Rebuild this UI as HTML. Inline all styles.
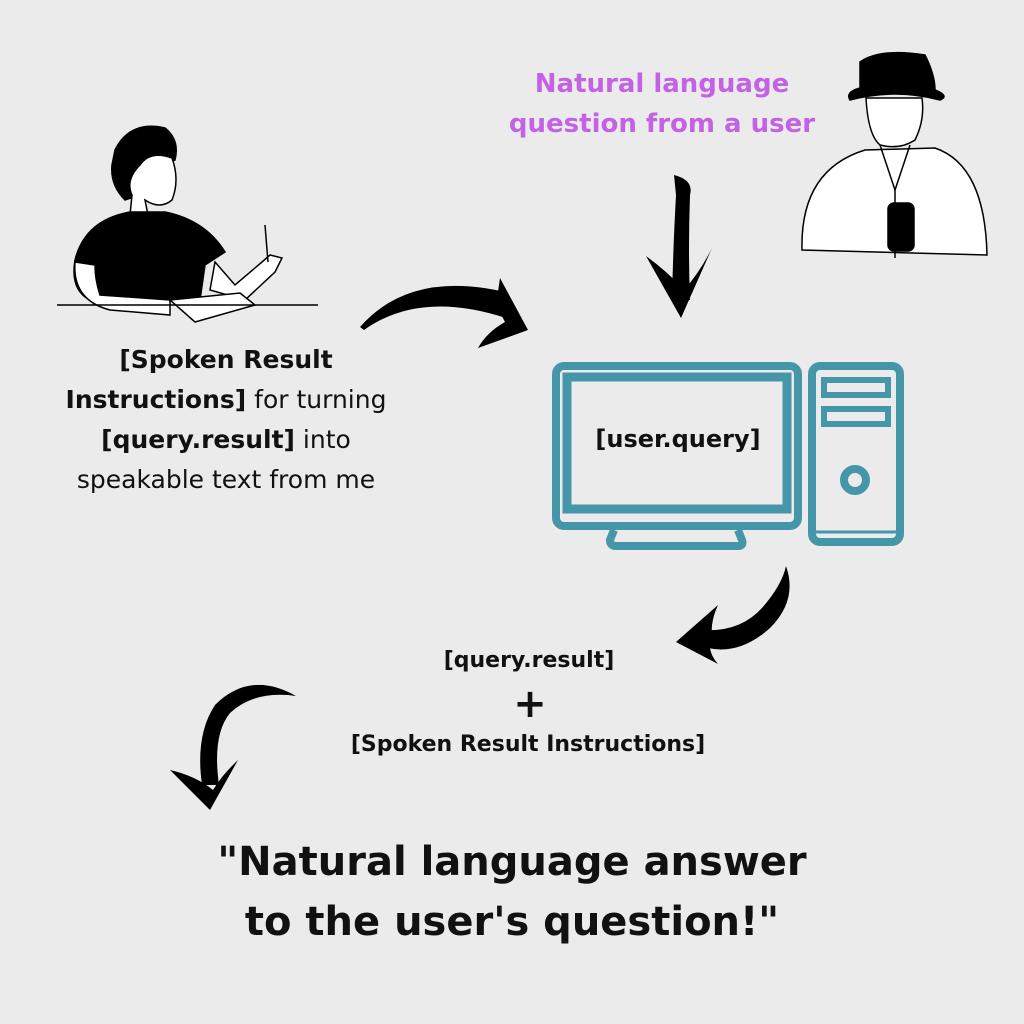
<!DOCTYPE html>
<html><head><meta charset="utf-8"><style>
html,body{margin:0;padding:0}
body{width:1024px;height:1024px;background:#ebebeb;position:relative;overflow:hidden;font-family:"DejaVu Sans","Liberation Sans",sans-serif;color:#111}
.t{position:absolute;text-align:center;white-space:nowrap;transform:translateX(-50%)}
b{font-weight:bold}
</style></head><body>
<svg width="1024" height="1024" style="position:absolute;left:0;top:0">
<g fill="none" stroke="#4596a8" stroke-width="8">
<rect x="556" y="366" width="242" height="160" rx="8"/>
<rect x="567" y="377" width="220" height="132" stroke-width="9"/>
<path d="M614 530 L610 540 Q610 546 616 546 L738 546 Q744 546 742 540 L738 530"/>
<rect x="812" y="366" width="88" height="176" rx="8"/>
<rect x="824" y="380" width="64" height="15" stroke-width="6"/>
<rect x="824" y="409" width="64" height="15" stroke-width="6"/>
<circle cx="855" cy="480" r="11"/>
<line x1="814" y1="532" x2="898" y2="532" stroke-width="3"/>
</g>
<g fill="#000" stroke="none">
<path d="M360 327 Q410 270 505 292 L506 318 Q420 290 364 330 Z"/>
<path d="M500 278 L528 330 L478 348 Q487 332 505 322 L496 305 Z"/>
<path d="M674 175 Q694 180 690 195 Q688 250 690 300 L672 300 Q673 250 676 195 Z"/>
<path d="M646 256 L681 318 L712 248 Q700 272 684 290 Q668 272 646 256 Z"/>
<path d="M786 566 Q798 600 770 628 Q740 655 708 648 L704 630 Q740 632 762 608 Q782 585 786 566 Z"/>
<path d="M718 605 L676 642 L718 664 Q706 650 712 638 Q710 622 718 605 Z"/>
<path d="M296 696 Q250 670 215 705 Q195 735 202 785 L219 785 Q212 735 230 713 Q255 690 296 696 Z"/>
<path d="M170 770 L210 810 L238 760 Q222 775 213 790 Q196 776 170 770 Z"/>
</g>
<g stroke="#000" stroke-width="1.5">
<path d="M115 150 Q130 120 165 128 Q180 140 175 160 L160 165 Q155 185 140 195 L125 200 Q110 185 112 165 Z" fill="#000"/>
<path d="M140 165 Q150 150 172 158 Q180 180 172 200 Q160 210 145 200 L148 215 L130 215 L132 195 Q125 180 140 165 Z" fill="#fff"/>
<path d="M75 260 Q85 220 130 212 L165 212 Q205 220 225 252 L205 265 L200 300 L90 300 Q70 290 75 260 Z" fill="#000"/>
<path d="M75 262 Q72 300 110 310 L170 315 L170 300 L100 295 Q95 280 95 265 Z" fill="#fff"/>
<path d="M215 262 L235 285 L262 262 L270 255 L282 258 L275 272 L245 300 L210 290 Z" fill="#fff"/>
<line x1="265" y1="225" x2="268" y2="262"/>
<path d="M170 300 L240 293 L255 305 L195 322 Z" fill="#fff"/>
<line x1="57" y1="305" x2="318" y2="305"/>
</g>
<g stroke="#000" stroke-width="1.5">
<path d="M802 250 Q800 170 865 150 L935 148 Q985 165 987 255 Z" fill="#fff"/>
<path d="M866 98 Q868 135 880 145 Q900 150 915 140 Q925 120 922 98 Z" fill="#fff"/>
<path d="M860 62 Q880 48 925 55 Q935 75 935 90 Q950 96 940 100 Q895 88 850 100 Q845 92 860 88 Z" fill="#000"/>
<rect x="888" y="203" width="26" height="48" rx="6" fill="#000"/>
<path d="M880 145 L895 190 L910 145" fill="none"/>
<line x1="895" y1="190" x2="895" y2="258"/>
</g>
</svg>
<div class="t" style="left:662px;top:64px;font-size:26px;line-height:40px;color:#c462e6;font-weight:bold">Natural language<br>question from a user</div>
<div class="t" style="left:226px;top:340px;font-size:25px;line-height:40px"><b>[Spoken Result</b><br><b>Instructions]</b> for turning<br><b>[query.result]</b> into<br>speakable text from me</div>
<div class="t" style="left:678px;top:425px;font-size:24px;font-weight:bold">[user.query]</div>
<div class="t" style="left:529px;top:648px;font-size:22px;font-weight:bold">[query.result]</div>
<div class="t" style="left:530px;top:682px;font-size:40px;font-weight:bold;line-height:44px">+</div>
<div class="t" style="left:528px;top:732px;font-size:22px;font-weight:bold">[Spoken Result Instructions]</div>
<div class="t" style="left:512px;top:832px;font-size:40px;font-weight:bold;line-height:60px">"Natural language answer<br>to the user's question!"</div>
</body></html>
